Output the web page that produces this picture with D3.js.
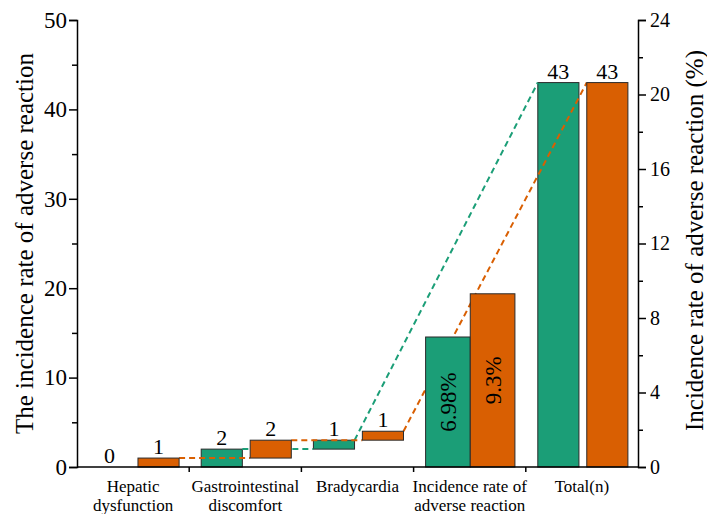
<!DOCTYPE html>
<html><head><meta charset="utf-8">
<script src="https://cdn.jsdelivr.net/npm/d3@7"></script>
<style>body{margin:0;background:#fff}svg{display:block}</style>
</head><body><svg id="c" width="707" height="514"></svg>
<script>
const categories = [["Hepatic","dysfunction"],["Gastrointestinal","discomfort"],["Bradycardia"],["Incidence rate of","adverse reaction"],["Total(n)"]];
const catKeys = ["hep","gi","brady","rate","total"];
const greenCounts = [0, 2, 1];   // hepatic, GI, bradycardia
const orangeCounts = [1, 2, 1];
const totals = [43, 43];          // green, orange
const rates = [6.98, 9.3];        // %
const rateLabels = ["6.98%", "9.3%"];
const leftTicks = [0,10,20,30,40,50];
const rightTicks = [0,4,8,12,16,20,24];

const GREEN = "#1b9e77", ORANGE = "#d95f02", EDGE = "#2b2b2b";
const svg = d3.select("#c");
const m = {l:77, r:69, t:20, b:47};
const W = 707, H = 514;
const x = d3.scaleBand().domain(catKeys).range([m.l, W - m.r]).padding(0);
const bw = x.bandwidth();
const sub = d3.scaleBand().domain(["g","o"]).range([bw*0.107, bw*0.91]).paddingInner(0.16);
const subRate = d3.scaleBand().domain(["g","o"]).range([bw*0.107, bw*0.903]).paddingInner(0);
const y = d3.scaleLinear().domain([0,50]).range([H - m.b, m.t]);
const y2 = d3.scaleLinear().domain([0,24]).range([H - m.b, m.t]);

function cumulative(arr){ let s=0; return arr.map(v=>{const a=s; s+=v; return [a,s,v];}); }
const gSeg = cumulative(greenCounts), oSeg = cumulative(orangeCounts);
const bars = [];
gSeg.forEach((s,i)=>bars.push({cat:catKeys[i], s:"g", y0:s[0], y1:s[1], v:s[2]}));
bars.push({cat:"total", s:"g", y0:0, y1:totals[0], v:totals[0]});
oSeg.forEach((s,i)=>bars.push({cat:catKeys[i], s:"o", y0:s[0], y1:s[1], v:s[2]}));
bars.push({cat:"total", s:"o", y0:0, y1:totals[1], v:totals[1]});
const bx = d => x(d.cat) + sub(d.s);
const bx2 = d => bx(d) + sub.bandwidth();

const gBars = bars.filter(d=>d.s==="g"), oBars = bars.filter(d=>d.s==="o");
function drawBars(data, col){
  svg.append("g").selectAll("rect").data(data.filter(d=>d.y1>d.y0)).join("rect")
    .attr("x", bx).attr("width", sub.bandwidth())
    .attr("y", d=>y(d.y1)).attr("height", d=>y(d.y0)-y(d.y1))
    .attr("fill", col).attr("stroke", EDGE).attr("stroke-width", 1);
}
function connectors(data, col){
  const segs = [];
  for(let i=0;i<data.length-1;i++){
    const a=data[i], b=data[i+1];
    if(a.y1===0) continue;
    const by = b.cat==="total" ? b.y1 : b.y0;
    segs.push([[bx2(a), y(a.y1)], [bx(b), y(by)]]);
  }
  svg.append("g").selectAll("line").data(segs).join("line")
    .attr("x1",d=>d[0][0]).attr("y1",d=>d[0][1]).attr("x2",d=>d[1][0]).attr("y2",d=>d[1][1])
    .attr("stroke", col).attr("stroke-width", 2).attr("stroke-dasharray","6,4");
}
drawBars(gBars, GREEN);
connectors(gBars, GREEN);
connectors(oBars, ORANGE);
drawBars(oBars, ORANGE);

const rateData = rates.map((v,i)=>({s:i?"o":"g", v, lab:rateLabels[i], col:i?ORANGE:GREEN}));
const rg = svg.append("g");
rg.selectAll("rect").data(rateData).join("rect")
  .attr("x", d=>x("rate")+subRate(d.s)).attr("width", subRate.bandwidth())
  .attr("y", d=>y2(d.v)).attr("height", d=>y2(0)-y2(d.v))
  .attr("fill", d=>d.col).attr("stroke", EDGE).attr("stroke-width", 1);
rg.selectAll("text").data(rateData).join("text")
  .attr("transform", d=>`translate(${x("rate")+subRate(d.s)+subRate.bandwidth()/2},${(y2(d.v)+y2(0))/2}) rotate(-90)`)
  .attr("text-anchor","middle").attr("dy","0.35em").attr("font-size",23).text(d=>d.lab);

const labData = bars.filter(d=>d.cat!=="rate");
svg.append("g").selectAll("text").data(labData).join("text")
  .attr("x", d=>bx(d)+sub.bandwidth()/2).attr("y", d=>y(d.y1)-4)
  .attr("text-anchor","middle").attr("font-size",22).text(d=>d.v);

const ax = svg.append("g");
const yl = d3.axisLeft(y).tickValues(leftTicks).tickSize(8).tickPadding(2).tickFormat(d3.format("d"));
const gl = ax.append("g").attr("transform",`translate(${m.l},0)`).call(yl);
gl.append("g").call(d3.axisLeft(y).tickValues(d3.range(5,50,10)).tickSize(5).tickFormat(""));
const yr = d3.axisRight(y2).tickValues(rightTicks).tickSize(8).tickPadding(4).tickFormat(d3.format("d"));
const gr = ax.append("g").attr("transform",`translate(${W-m.r},0)`).call(yr);
gr.append("g").call(d3.axisRight(y2).tickValues(d3.range(2,24,4)).tickSize(5).tickFormat(""));
const gb = ax.append("g").attr("transform",`translate(0,${H-m.b})`);
gb.append("line").attr("x1",m.l).attr("x2",W-m.r).attr("stroke","#000").attr("stroke-width",1.5);
gb.selectAll("line.t").data(catKeys.slice(1)).join("line").attr("class","t")
  .attr("x1",d=>x(d)).attr("x2",d=>x(d)).attr("y1",0).attr("y2",5).attr("stroke","#000").attr("stroke-width",1.5);
gb.selectAll("text").data(categories).join("text")
  .attr("x",(d,i)=>x(catKeys[i])+bw/2).attr("y",25).attr("text-anchor","middle").attr("font-size",17)
  .selectAll("tspan").data(d=>d).join("tspan").attr("x",function(){return this.parentNode.getAttribute("x");})
  .attr("dy",(d,i)=>i?19:0).text(d=>d);
[gl,gr].forEach(g=>{
  g.selectAll(".domain").attr("stroke","#000").attr("stroke-width",1.5);
  g.selectAll(".tick line").attr("stroke","#000").attr("stroke-width",1.5);
});
gl.selectAll(".domain").filter((d,i,n)=>n[i].parentNode!==gl.node()).remove();
gr.selectAll(".domain").filter((d,i,n)=>n[i].parentNode!==gr.node()).remove();
gl.selectAll("text").attr("font-size",23);
gr.selectAll("text").attr("font-size",20);

svg.append("text").attr("transform",`translate(24,${(m.t+H-m.b)/2}) rotate(-90)`).attr("text-anchor","middle")
  .attr("dy","0.35em").attr("font-size",25).text("The incidence rate of adverse reaction");
svg.append("text").attr("transform",`translate(694,${(m.t+H-m.b)/2 - 3}) rotate(-90)`).attr("text-anchor","middle")
  .attr("dy","0.35em").attr("font-size",25).text("Incidence rate of adverse reaction (%)");

svg.selectAll("text").style("font-family", '"Liberation Serif"').style("fill", "#000");
</script></body></html>
